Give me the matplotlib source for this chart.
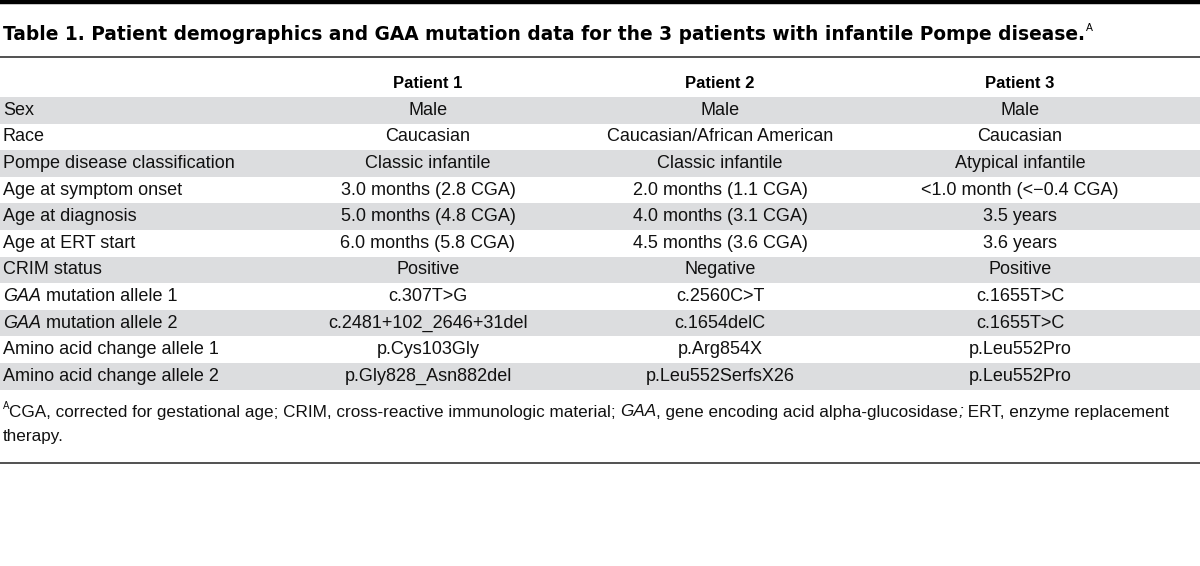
import matplotlib
matplotlib.use("Agg")
import matplotlib.pyplot as plt

# table content
title = "Table 1. Patient demographics and GAA mutation data for the 3 patients with infantile Pompe disease."
columns = ["Patient 1", "Patient 2", "Patient 3"]
row_labels = [
    [("Sex", "normal")],
    [("Race", "normal")],
    [("Pompe disease classification", "normal")],
    [("Age at symptom onset", "normal")],
    [("Age at diagnosis", "normal")],
    [("Age at ERT start", "normal")],
    [("CRIM status", "normal")],
    [("GAA", "italic"), (" mutation allele 1", "normal")],
    [("GAA", "italic"), (" mutation allele 2", "normal")],
    [("Amino acid change allele 1", "normal")],
    [("Amino acid change allele 2", "normal")],
]
patient1 = ["Male", "Caucasian", "Classic infantile", "3.0 months (2.8 CGA)",
            "5.0 months (4.8 CGA)", "6.0 months (5.8 CGA)", "Positive",
            "c.307T>G", "c.2481+102_2646+31del", "p.Cys103Gly", "p.Gly828_Asn882del"]
patient2 = ["Male", "Caucasian/African American", "Classic infantile", "2.0 months (1.1 CGA)",
            "4.0 months (3.1 CGA)", "4.5 months (3.6 CGA)", "Negative",
            "c.2560C>T", "c.1654delC", "p.Arg854X", "p.Leu552SerfsX26"]
patient3 = ["Male", "Caucasian", "Atypical infantile", "<1.0 month (<\u22120.4 CGA)",
            "3.5 years", "3.6 years", "Positive",
            "c.1655T>C", "c.1655T>C", "p.Leu552Pro", "p.Leu552Pro"]
footnote1 = [("CGA, corrected for gestational age; CRIM, cross-reactive immunologic material; ", "normal"),
             ("GAA", "italic"), (", gene encoding acid alpha-glucosidase", "normal"),
             (";", "italic"), (" ERT, enzyme replacement", "normal")]
footnote2 = [("therapy.", "normal")]

plt.rcParams["font.family"] = ["Liberation Sans", "DejaVu Sans"]
FS = 13
GRAY = "#dcdddf"
INK = "#111111"

fig = plt.figure(figsize=(12, 5.66), dpi=100)
ax = fig.add_axes([0, 0, 1, 1])
ax.set_xlim(0, 1200)
ax.set_ylim(566, 0)
ax.axis("off")
renderer = fig.canvas.get_renderer()


def draw_runs(x, y, runs, **kw):
    for txt, style in runs:
        t = ax.text(x, y, txt, style=style, va="center", ha="left", **kw)
        x += t.get_window_extent(renderer).width
    return x


# top bar and rules
ax.axhline(2, color="black", lw=3.2)
ax.axhline(57, color="#222222", lw=1.1)
ax.axhline(463, color="#222222", lw=1.1)

# title
tx = draw_runs(3, 34, [(title, "normal")], fontsize=13.45, fontweight="bold",
               color="black", family=["DejaVu Sans"])
ax.text(tx + 1, 28, "A", fontsize=7.5, ha="left", va="center", color="black")

# header
col_x = [428, 720, 1020]
header_y = 83
for cx, name in zip(col_x, columns):
    ax.text(cx, header_y, name, ha="center", va="center", fontsize=12,
            fontweight="bold", color="black")

row_top = 97
row_h = 26.6
for i, label in enumerate(row_labels):
    top = row_top + i * row_h
    if i % 2 == 0:
        ax.axhspan(top, top + row_h, color=GRAY, lw=0, zorder=0)
    yc = top + row_h / 2
    draw_runs(3, yc, label, fontsize=FS, color=INK)
    for cx, vals in zip(col_x, [patient1, patient2, patient3]):
        ax.text(cx, yc, vals[i], ha="center", va="center", fontsize=FS, color=INK)

# footnote
ax.text(3, 406, "A", fontsize=7, ha="left", va="center", color=INK)
draw_runs(9, 412, footnote1, fontsize=12.3, color=INK)
draw_runs(3, 437, footnote2, fontsize=12.3, color=INK)

fig.savefig("out.png", dpi=100)
